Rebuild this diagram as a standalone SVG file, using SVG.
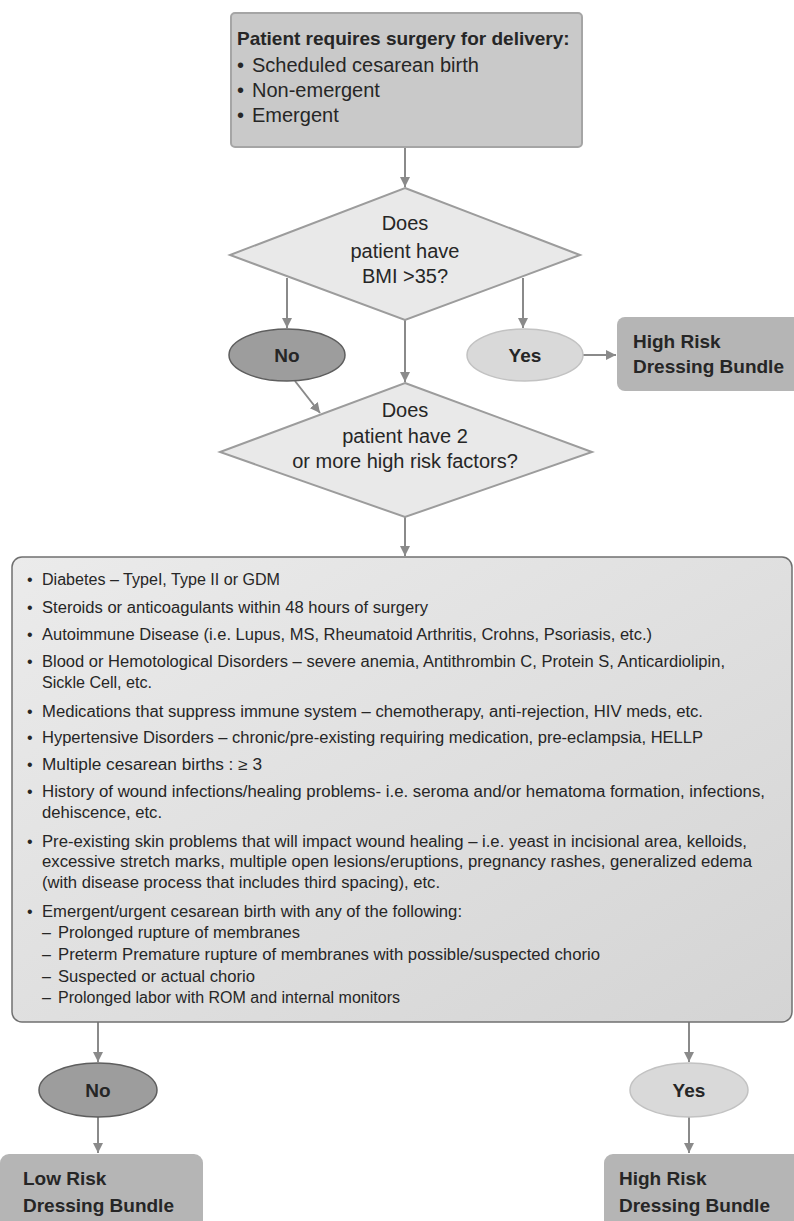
<svg xmlns="http://www.w3.org/2000/svg" width="794" height="1221" viewBox="0 0 794 1221">
<style>
text{font-family:"Liberation Sans",Arial,sans-serif;fill:#262626}
.h{font-weight:bold;font-size:19px}
.t20{font-size:20px}
.d{font-size:20px;text-anchor:middle}
.o{font-weight:bold;font-size:19px;text-anchor:middle}
.b{font-size:16px}
.con{stroke:#8a8a8a;stroke-width:2;fill:none}
.dia{fill:#e9e9e9;stroke:#9c9c9c;stroke-width:2}
.no{fill:#9d9d9d;stroke:#5e5e5e;stroke-width:1.5}
.yes{fill:#d9d9d9;stroke:#c2c2c2;stroke-width:1.5}
.res{fill:#b5b5b5;stroke:none}
</style>
<defs>
<marker id="ah" viewBox="0 0 10 10" refX="10" refY="5" markerWidth="5" markerHeight="5" orient="auto" markerUnits="strokeWidth">
<path d="M0,0 L10,5 L0,10 z" fill="#8a8a8a"/>
</marker>
<linearGradient id="bg" x1="0" y1="0" x2="1" y2="1">
<stop offset="0" stop-color="#ebebeb"/>
<stop offset="1" stop-color="#d4d4d4"/>
</linearGradient>
</defs>

<g id="connectors">
<line class="con" x1="405" y1="147" x2="405" y2="187" marker-end="url(#ah)"/>
<line class="con" x1="287" y1="278" x2="287" y2="328" marker-end="url(#ah)"/>
<line class="con" x1="523" y1="278" x2="523" y2="328" marker-end="url(#ah)"/>
<line class="con" x1="405" y1="320" x2="405" y2="382" marker-end="url(#ah)"/>
<line class="con" x1="583" y1="355" x2="616" y2="355" marker-end="url(#ah)"/>
<line class="con" x1="295" y1="381" x2="320" y2="413" marker-end="url(#ah)"/>
<line class="con" x1="405" y1="517" x2="405" y2="556" marker-end="url(#ah)"/>
<line class="con" x1="98" y1="1022" x2="98" y2="1062" marker-end="url(#ah)"/>
<line class="con" x1="98" y1="1117" x2="98" y2="1153" marker-end="url(#ah)"/>
<line class="con" x1="689" y1="1022" x2="689" y2="1062" marker-end="url(#ah)"/>
<line class="con" x1="689" y1="1117" x2="689" y2="1153" marker-end="url(#ah)"/>
</g>

<g id="start">
<rect x="231" y="13" width="351" height="134" rx="4" fill="#c9c9c9" stroke="#a5a5a5" stroke-width="2"/>
<text class="h" x="237" y="45">Patient requires surgery for delivery:</text>
<text class="t20" x="237" y="72">•</text><text class="t20" x="252" y="72">Scheduled cesarean birth</text>
<text class="t20" x="237" y="97">•</text><text class="t20" x="252" y="97">Non-emergent</text>
<text class="t20" x="237" y="122">•</text><text class="t20" x="252" y="122">Emergent</text>
</g>

<g id="bmi">
<polygon class="dia" points="405,188 580,255 405,320 230,255"/>
<text class="d" x="405" y="230">Does</text>
<text class="d" x="405" y="258">patient have</text>
<text class="d" x="405" y="283">BMI &gt;35?</text>
</g>

<g id="no1">
<ellipse class="no" cx="287" cy="355" rx="58" ry="26"/>
<text class="o" x="287" y="362">No</text>
</g>

<g id="yes1">
<ellipse class="yes" cx="525" cy="355" rx="58" ry="26"/>
<text class="o" x="525" y="362">Yes</text>
</g>

<g id="high1">
<rect class="res" x="617" y="317" width="190" height="74" rx="8"/>
<text class="h" x="633" y="348">High Risk</text>
<text class="h" x="633" y="373">Dressing Bundle</text>
</g>

<g id="factors">
<polygon class="dia" points="405,383 592,452 405,517 220,452"/>
<text class="d" x="405" y="417">Does</text>
<text class="d" x="405" y="443">patient have 2</text>
<text class="d" x="405" y="468">or more high risk factors?</text>
</g>

<g id="list">
<rect x="12" y="557" width="780" height="465" rx="10" fill="url(#bg)" stroke="#707070" stroke-width="1.5"/>
<g class="b">
<text class="b" x="27" y="585">•</text><text class="b" x="42" y="585" textLength="238" lengthAdjust="spacingAndGlyphs">Diabetes – TypeI, Type II or GDM</text>
<text class="b" x="27" y="613">•</text><text class="b" x="42" y="613" textLength="386" lengthAdjust="spacingAndGlyphs">Steroids or anticoagulants within 48 hours of surgery</text>
<text class="b" x="27" y="640">•</text><text class="b" x="42" y="640" textLength="610" lengthAdjust="spacingAndGlyphs">Autoimmune Disease (i.e. Lupus, MS, Rheumatoid Arthritis, Crohns, Psoriasis, etc.)</text>
<text class="b" x="27" y="667">•</text><text class="b" x="42" y="667" textLength="683" lengthAdjust="spacingAndGlyphs">Blood or Hemotological Disorders – severe anemia, Antithrombin C, Protein S, Anticardiolipin,</text>
<text class="b" x="42" y="688" textLength="110" lengthAdjust="spacingAndGlyphs">Sickle Cell, etc.</text>
<text class="b" x="27" y="717">•</text><text class="b" x="42" y="717" textLength="661" lengthAdjust="spacingAndGlyphs">Medications that suppress immune system – chemotherapy, anti-rejection, HIV meds, etc.</text>
<text class="b" x="27" y="743">•</text><text class="b" x="42" y="743" textLength="661" lengthAdjust="spacingAndGlyphs">Hypertensive Disorders – chronic/pre-existing requiring medication, pre-eclampsia, HELLP</text>
<text class="b" x="27" y="770">•</text><text class="b" x="42" y="770" textLength="220" lengthAdjust="spacingAndGlyphs">Multiple cesarean births :  ≥ 3</text>
<text class="b" x="27" y="797">•</text><text class="b" x="42" y="797" textLength="723" lengthAdjust="spacingAndGlyphs">History of wound infections/healing problems- i.e. seroma and/or hematoma formation, infections,</text>
<text class="b" x="42" y="818" textLength="120" lengthAdjust="spacingAndGlyphs">dehiscence, etc.</text>
<text class="b" x="27" y="847">•</text><text class="b" x="42" y="847" textLength="705" lengthAdjust="spacingAndGlyphs">Pre-existing skin problems that will impact wound healing – i.e. yeast in incisional area, kelloids,</text>
<text class="b" x="42" y="867" textLength="710" lengthAdjust="spacingAndGlyphs">excessive stretch marks, multiple open lesions/eruptions, pregnancy rashes, generalized edema</text>
<text class="b" x="42" y="888" textLength="398" lengthAdjust="spacingAndGlyphs">(with disease process that includes third spacing), etc.</text>
<text class="b" x="27" y="917">•</text><text class="b" x="42" y="917" textLength="420" lengthAdjust="spacingAndGlyphs">Emergent/urgent cesarean birth with any of the following:</text>
<text class="b" x="42" y="938">–</text><text class="b" x="58" y="938" textLength="242" lengthAdjust="spacingAndGlyphs">Prolonged rupture of membranes</text>
<text class="b" x="42" y="960">–</text><text class="b" x="58" y="960" textLength="542" lengthAdjust="spacingAndGlyphs">Preterm Premature rupture of membranes with possible/suspected chorio</text>
<text class="b" x="42" y="982">–</text><text class="b" x="58" y="982" textLength="197" lengthAdjust="spacingAndGlyphs">Suspected or actual chorio</text>
<text class="b" x="42" y="1003">–</text><text class="b" x="58" y="1003" textLength="342" lengthAdjust="spacingAndGlyphs">Prolonged labor with ROM and internal monitors</text>
</g>
</g>

<g id="no2">
<ellipse class="no" cx="98" cy="1090" rx="59" ry="27"/>
<text class="o" x="98" y="1097">No</text>
</g>

<g id="yes2">
<ellipse class="yes" cx="689" cy="1090" rx="59" ry="27"/>
<text class="o" x="689" y="1097">Yes</text>
</g>

<g id="low">
<rect class="res" x="0" y="1154" width="203" height="80" rx="9"/>
<text class="h" x="23" y="1185">Low Risk</text>
<text class="h" x="23" y="1212">Dressing Bundle</text>
</g>

<g id="high2">
<rect class="res" x="604" y="1154" width="200" height="80" rx="9"/>
<text class="h" x="619" y="1185">High Risk</text>
<text class="h" x="619" y="1212">Dressing Bundle</text>
</g>
</svg>
